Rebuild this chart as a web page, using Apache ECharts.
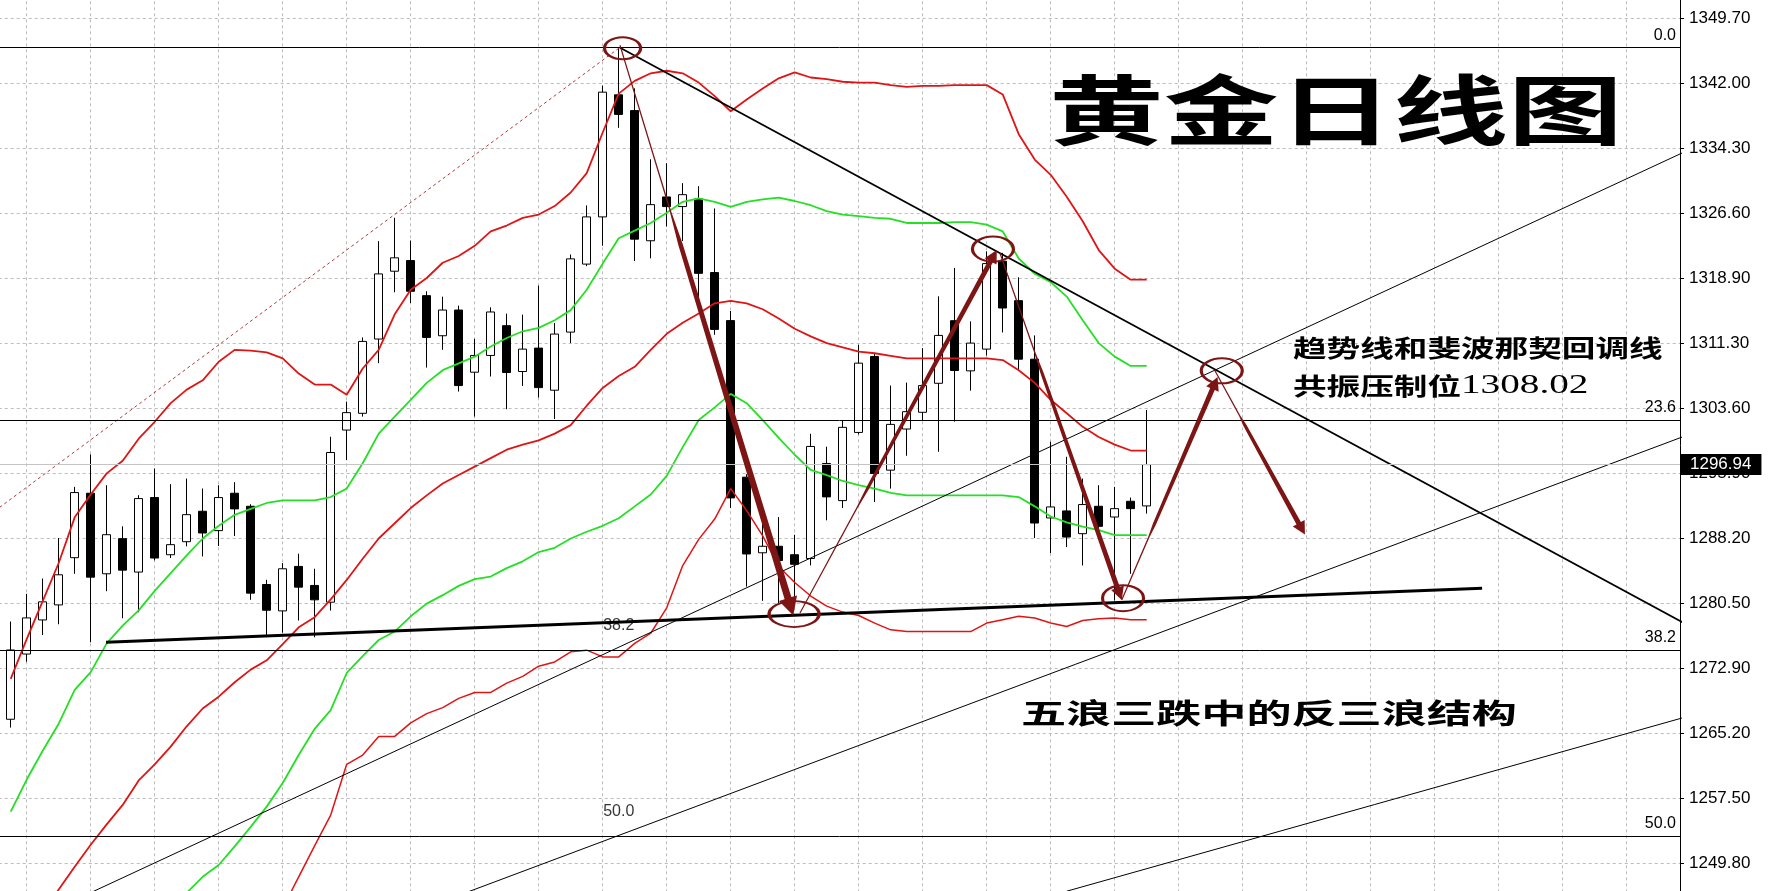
<!DOCTYPE html>
<html><head><meta charset="utf-8">
<script src="https://cdn.jsdelivr.net/npm/echarts@6/dist/echarts.min.js"></script>
<style>html,body{margin:0;padding:0;background:#fff}#c{width:1776px;height:891px}</style>
</head><body><div id="c"></div>
<script>
// ---------- data ----------
const candleOpen = [1266.83,1274.54,1278.57,1280.35,1285.93,1293.55,1284.03,1288.18,1284.23,1293.04,
1286.28,1287.82,1291.42,1289.13,1293.55,1292.01,1282.76,1279.64,1284.90,1282.65,
1280.67,1301.02,1303.00,1311.78,1319.80,1321.06,1316.91,1312.17,1315.21,1307.86,
1309.84,1313.36,1307.94,1310.71,1305.73,1312.60,1320.64,1326.22,1340.65,1338.79,
1323.40,1328.58,1327.44,1328.35,1319.64,1313.96,1295.45,1286.51,1287.28,1286.28,
1285.83,1297.07,1292.68,1300.74,1309.72,1296.28,1301.14,1303.12,1306.55,1313.95,
1308.02,1310.59,1320.98,1316.32,1309.40,1290.63,1291.46,1288.77,1292.01,1290.74,
1292.60,1292.05];
const candleClose = [1275.02,1278.81,1280.71,1283.91,1293.63,1283.63,1288.65,1284.46,1292.92,1285.89,
1287.47,1291.02,1288.85,1293.04,1291.70,1281.74,1279.72,1284.62,1282.45,1280.95,
1298.37,1303.08,1311.50,1319.48,1321.38,1317.43,1311.97,1315.21,1306.28,1309.84,
1314.98,1307.82,1310.59,1306.04,1312.37,1321.26,1326.22,1340.97,1338.34,1323.59,
1327.67,1327.44,1328.85,1319.55,1312.92,1293.00,1286.37,1287.28,1285.60,1285.15,
1299.08,1293.12,1301.34,1308.93,1295.88,1301.69,1303.19,1306.28,1312.21,1308.06,
1311.30,1320.70,1315.45,1309.40,1290.03,1291.93,1288.37,1292.21,1289.64,1291.73,
1291.73,1296.94];
const candleLow = [1265.85,1273.63,1276.79,1278.06,1284.03,1275.93,1281.97,1278.77,1279.48,1285.61,
1285.89,1287.27,1286.08,1287.31,1288.49,1280.95,1276.64,1277.07,1278.50,1276.52,
1279.68,1297.47,1302.61,1308.93,1317.31,1316.04,1308.41,1310.51,1305.57,1302.61,
1307.35,1303.48,1306.24,1304.86,1302.33,1311.30,1320.40,1322.81,1336.75,1321.00,
1321.32,1325.08,1323.36,1316.69,1312.28,1291.82,1282.51,1280.83,1280.38,1281.00,
1285.02,1290.35,1291.81,1300.50,1292.52,1294.10,1297.98,1302.21,1298.45,1302.01,
1305.68,1309.83,1312.56,1308.02,1288.25,1286.47,1287.19,1285.01,1288.95,1280.86,
1284.02,1291.14];
const candleHigh = [1278.38,1281.66,1283.47,1288.26,1294.30,1298.14,1294.50,1289.64,1293.32,1296.48,
1294.62,1295.29,1294.11,1294.50,1294.86,1292.25,1283.32,1285.29,1286.40,1284.62,
1300.23,1304.38,1311.97,1323.36,1326.12,1323.43,1317.43,1316.79,1315.73,1311.81,
1315.53,1314.78,1314.66,1318.10,1313.67,1321.78,1327.58,1341.74,1346.30,1341.42,
1333.03,1332.57,1330.21,1329.85,1327.22,1315.10,1295.80,1290.15,1290.73,1288.64,
1300.58,1299.05,1302.09,1311.10,1310.11,1306.28,1306.63,1310.70,1316.83,1320.19,
1313.87,1322.15,1321.97,1319.08,1312.21,1299.64,1297.86,1295.29,1294.50,1294.30,
1293.04,1303.39];

const bandRedUpper = [1271.6,1276.3,1280.8,1285.3,1290.7,1293.4,1295.9,1297.4,1300.0,1302.0,
1304.2,1305.8,1306.9,1309.1,1310.5,1310.4,1310.2,1309.5,1307.7,1306.4,
1306.4,1305.2,1308.3,1310.5,1314.7,1317.6,1319.0,1320.8,1321.6,1322.8,
1324.5,1325.2,1326.1,1326.5,1327.5,1329.1,1331.4,1336.2,1340.8,1342.3,
1343.2,1343.5,1343.2,1342.1,1340.5,1338.7,1340.1,1341.4,1342.6,1343.3,
1342.7,1342.5,1342.2,1342.1,1342.1,1341.8,1341.6,1341.7,1341.7,1341.8,
1341.8,1341.8,1340.7,1336.0,1333.0,1331.2,1328.6,1325.7,1322.3,1320.1,
1318.8,1318.8];
const bandGreenUpper = [1255.9,1259.7,1263.1,1266.3,1270.3,1272.4,1275.8,1277.9,1279.7,1282.0,
1284.1,1286.2,1288.2,1289.7,1291.0,1291.7,1292.4,1292.7,1292.7,1292.7,
1293.1,1294.1,1297.1,1300.6,1302.6,1304.6,1306.6,1308.1,1308.9,1309.7,
1310.9,1311.9,1312.7,1313.1,1314.0,1315.2,1317.6,1320.7,1323.7,1324.6,
1325.5,1326.7,1328.0,1328.4,1328.0,1327.4,1328.0,1328.3,1328.5,1328.1,
1327.6,1326.9,1326.5,1326.3,1326.1,1326.0,1325.5,1325.5,1325.5,1325.6,
1325.6,1325.3,1324.5,1321.3,1319.5,1318.5,1316.8,1314.0,1311.3,1309.7,
1308.6,1308.6];
const bandRedMiddle = [1238.6,1241.3,1244.0,1246.7,1249.4,1252.0,1254.4,1256.7,1259.6,1261.5,
1263.6,1266.0,1268.1,1269.5,1271.2,1272.7,1273.8,1275.7,1277.7,1278.9,
1281.0,1283.3,1285.8,1288.2,1290.0,1291.8,1293.3,1294.7,1295.7,1296.7,
1297.7,1298.7,1299.3,1299.8,1300.6,1301.6,1303.9,1306.0,1307.4,1308.5,
1310.5,1312.4,1313.7,1314.8,1316.0,1316.3,1316.0,1315.3,1314.2,1313.0,
1312.1,1311.3,1310.8,1310.3,1310.1,1309.8,1309.5,1309.5,1309.5,1309.5,
1309.5,1309.5,1309.3,1308.1,1306.6,1304.6,1303.0,1301.4,1300.2,1299.3,
1298.6,1298.6];
const bandGreenLower = [null,null,null,null,null,null,null,null,null,null,
1244.5,1246.3,1248.2,1249.6,1251.8,1254.1,1256.5,1259.3,1262.6,1265.7,
1267.9,1272.3,1274.3,1276.2,1277.2,1279.0,1280.5,1281.5,1282.6,1283.4,
1283.7,1284.7,1285.5,1286.6,1287.1,1288.2,1289.0,1289.7,1290.6,1292.0,
1293.4,1295.6,1299.0,1302.2,1303.7,1305.3,1304.2,1302.2,1300.1,1298.1,
1296.3,1295.7,1295.0,1294.5,1294.1,1293.6,1293.3,1293.3,1293.3,1293.3,
1293.3,1293.3,1293.3,1293.1,1292.0,1290.8,1290.1,1289.6,1289.2,1288.6,
1288.6,1288.6];
const bandRedLower = [null,null,null,null,null,null,null,null,null,null,
null,null,null,null,null,null,null,1244.5,1248.2,1251.9,
1255.5,1261.5,1262.6,1264.8,1264.8,1266.4,1267.5,1268.2,1269.3,1270.0,
1270.0,1271.1,1271.9,1273.1,1273.6,1274.8,1275.0,1274.2,1274.2,1275.8,
1277.0,1280.0,1285.0,1288.1,1290.5,1294.1,1291.5,1288.5,1284.9,1283.0,
1281.4,1280.2,1279.5,1279.1,1278.2,1277.4,1277.2,1277.2,1277.2,1277.2,
1277.2,1278.2,1278.6,1279.0,1278.8,1278.2,1277.8,1278.5,1278.7,1278.8,
1278.6,1278.6];

const yTickLabels = ['1349.70','1342.00','1334.30','1326.60','1318.90','1311.30','1303.60',
'1295.90','1288.20','1280.50','1272.90','1265.20','1257.50','1249.80'];
const lastPrice = 1296.94;
const fibLevels = [1346.22, 1302.23, 1275.02, 1253.02];
const fibLabels = ['0.0', '23.6', '38.2', '50.0'];
const fibLeftAnchors = [[38, 1275.02, '38.2'], [38, 1253.02, '50.0']];

// trend lines: two anchor points each [index, price]
const trendDown = [[38.06, 1346.24], [110, 1272.65]];
const supportLine = [[5.96, 1275.92], [91.96, 1282.31]];
const channelA = [[5.0, 1246.33], [104.5, 1333.81]];
const channelB = [[27.0, 1245.3], [104.5, 1300.22]];
const channelC = [[66.0, 1246.5], [104.5, 1267.0]];
const dottedRise = [[-1.0, 1291.45], [38.06, 1346.24]];

// arrows [fromIndex, fromPrice, toIndex, toPrice]
const arrows = [
  [38.08, 1346.51, 48.91, 1279.09],
  [49.33, 1279.39, 61.63, 1322.31],
  [61.83, 1321.92, 69.44, 1280.92],
  [69.44, 1280.92, 75.43, 1307.29],
  [75.24, 1308.12, 80.89, 1288.66]
];
// circled points [index, price]
const circles = [[38.24, 1346.17], [48.96, 1279.27], [69.52, 1281.14], [61.39, 1322.42], [75.69, 1308.02]];

// ---------- styles ----------
const ARROW_COLOR = '#7e1515';
const ARROW_W = [7, 5, 5, 5, 5];
const CIRCLE_SIZE = [[36, 22], [50, 26], [41, 26], [41, 25], [41, 25]];

const Y_STEP = (1349.70 - 1249.80) / 13;
const Y_MIN = 1249.80 - Y_STEP;
const Y_MAX = 1349.70 + Y_STEP;

const candleData = candleOpen.map((o, i) => [i, o, candleClose[i], candleLow[i], candleHigh[i]]);
const toLine = arr => arr.map((v, i) => v == null ? null : [i, v]).filter(d => d);

function bandSeries(name, arr, color, width) {
  return { name, type: 'line', data: toLine(arr), symbol: 'none', smooth: false, z: 3,
    lineStyle: { color, width }, silent: true, clip: true };
}
function straight(name, pts, color, width, type) {
  return { name, type: 'line', data: pts, symbol: 'none', z: 4, silent: true, clip: true,
    lineStyle: { color, width, type: type || 'solid' } };
}

function renderArrow(params, api) {
  const k = params.dataIndex;
  const p0 = api.coord([api.value(0), api.value(1)]);
  const p1 = api.coord([api.value(2), api.value(3)]);
  const w = ARROW_W[k];
  const hl = w * 2.6, hw = w * 1.35;
  const dx = p1[0] - p0[0], dy = p1[1] - p0[1];
  const L = Math.hypot(dx, dy);
  const ux = dx / L, uy = dy / L, nx = -uy, ny = ux;
  const Ls = L - hl;
  const prof = [[0, 0.6], [0.3, 0.7], [0.36, 0.32 * w], [1, 0.5 * w]];
  const left = [], right = [];
  prof.forEach(([t, h]) => {
    const cx = p0[0] + ux * Ls * t, cy = p0[1] + uy * Ls * t;
    left.push([cx + nx * h, cy + ny * h]);
    right.push([cx - nx * h, cy - ny * h]);
  });
  const bx = p0[0] + ux * Ls, by = p0[1] + uy * Ls;
  const pts = left.concat([[bx + nx * hw, by + ny * hw], [p1[0], p1[1]], [bx - nx * hw, by - ny * hw]], right.reverse());
  return { type: 'polygon', shape: { points: pts }, style: { fill: ARROW_COLOR } };
}

const chart = echarts.init(document.getElementById('c'), null, { renderer: 'canvas' });
const gridStyle = { show: true, lineStyle: { color: '#bcbcbc', type: [3, 3], width: 1 } };
const option = {
  animation: false,
  backgroundColor: '#ffffff',
  grid: { left: -37.3, right: 96, top: -46.7, bottom: -37.3, containLabel: false, outerBoundsMode: 'none' },
  xAxis: { type: 'value', min: -3, max: 104.33, interval: 4,
    axisLine: { show: false, onZero: false }, axisTick: { show: false }, axisLabel: { show: false }, splitLine: gridStyle },
  yAxis: { type: 'value', position: 'right', min: Y_MIN, max: Y_MAX, interval: Y_STEP, scale: true,
    axisLine: { show: true, onZero: false, lineStyle: { color: '#000', width: 1 } },
    axisTick: { show: true, length: 4, lineStyle: { color: '#000' } },
    axisLabel: { margin: 9, color: '#000', fontSize: 17, fontFamily: 'Liberation Sans',
      formatter: v => { const m = yTickLabels.find(s => Math.abs(parseFloat(s) - v) < 0.6); return m || ''; } },
    splitLine: gridStyle },
  graphic: [
    { type: 'text', x: 1049, y: 110, scaleX: 1.51, z: 100,
      style: { text: '黄金日线图', fill: '#000', fontSize: 76, fontWeight: 'bold', fontFamily: 'Noto Sans CJK SC',
        verticalAlign: 'middle', textVerticalAlign: 'middle' } },
    { type: 'text', x: 1293, y: 348, scaleX: 1.4, z: 100,
      style: { text: '趋势线和斐波那契回调线', fill: '#000', fontSize: 24, fontWeight: 'bold', fontFamily: 'Noto Sans CJK SC',
        verticalAlign: 'middle', textVerticalAlign: 'middle' } },
    { type: 'text', x: 1293, y: 386, scaleX: 1.4, z: 100,
      style: { text: '{a|共振压制位}{b|1308.02}', verticalAlign: 'middle', textVerticalAlign: 'middle',
        rich: { a: { fill: '#000', fontSize: 24, fontWeight: 'bold', fontFamily: 'Noto Sans CJK SC' },
                b: { fill: '#000', fontSize: 28, fontFamily: 'Liberation Serif' } } } },
    { type: 'text', x: 1021, y: 713, scaleX: 1.61, z: 100,
      style: { text: '五浪三跌中的反三浪结构', fill: '#000', fontSize: 28, fontWeight: 'bold', fontFamily: 'Noto Sans CJK SC',
        verticalAlign: 'middle', textVerticalAlign: 'middle' } }
  ],
  series: [
    { name: 'price', type: 'candlestick', data: candleData, barWidth: 9, z: 2,
      dimensions: ['i', 'open', 'close', 'low', 'high'],
      encode: { x: 'i', y: ['open', 'close', 'low', 'high'] },
      itemStyle: { color: '#ffffff', color0: '#000000', borderColor: '#000000', borderColor0: '#000000', borderWidth: 1 },
      markLine: { silent: true, symbol: ['none', 'none'], animation: false,
        lineStyle: { color: '#000', width: 1, type: 'solid' },
        data: fibLevels.map((v, k) => ({ yAxis: v,
          label: { show: true, position: 'insideEndTop', distance: 4, formatter: fibLabels[k], color: '#000',
            fontSize: 16, fontFamily: 'Liberation Sans' } }))
          .concat([{ yAxis: lastPrice, lineStyle: { color: '#c4c4c4', width: 1, type: 'solid' },
            label: { show: true, position: 'end', distance: 0, formatter: lastPrice.toFixed(2), color: '#fff',
              backgroundColor: '#000', padding: [2, 10, 2, 10], fontSize: 17, fontFamily: 'Liberation Sans' } }]) } },
    bandSeries('redUpper', bandRedUpper, '#e01414', 1.8),
    bandSeries('greenUpper', bandGreenUpper, '#24e024', 1.8),
    bandSeries('redMiddle', bandRedMiddle, '#e01414', 1.8),
    bandSeries('greenLower', bandGreenLower, '#24e024', 1.8),
    bandSeries('redLower', bandRedLower, '#e01414', 1.5),
    straight('dotted', dottedRise, '#b03a3a', 1, [3, 3]),
    straight('chanA', channelA, '#000', 1),
    straight('chanB', channelB, '#000', 1),
    straight('chanC', channelC, '#000', 1),
    straight('support', supportLine, '#000', 3),
    straight('trendDown', trendDown, '#000', 1.8),
    { name: 'fibLeft', type: 'scatter', data: fibLeftAnchors.map(a => [a[0], a[1]]), symbolSize: 1, z: 5,
      itemStyle: { color: 'rgba(0,0,0,0)' }, silent: true,
      label: { show: true, position: 'inside', offset: [0, -24], color: '#000', fontSize: 16, fontFamily: 'Liberation Sans',
        formatter: p => fibLeftAnchors[p.dataIndex][2] } },
    { name: 'arrows', type: 'custom', data: arrows, renderItem: renderArrow, z: 6, silent: true,
      encode: { x: [0, 2], y: [1, 3] }, clip: true },
    { name: 'circles', type: 'scatter', data: circles, z: 7, silent: true, symbol: 'circle',
      symbolSize: (v, p) => CIRCLE_SIZE[p.dataIndex],
      itemStyle: { color: 'rgba(0,0,0,0)', borderColor: ARROW_COLOR, borderWidth: 2.5, opacity: 1 } }
  ]
};
chart.setOption(option);
</script></body></html>
